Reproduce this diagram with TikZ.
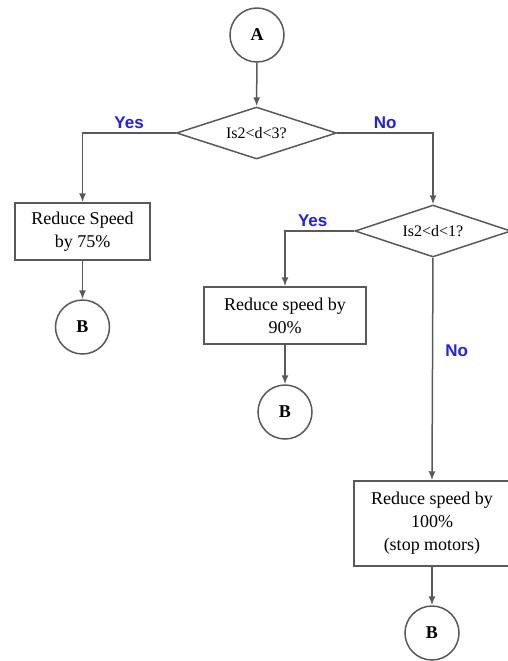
\documentclass[tikz,border=0pt]{standalone}
\usepackage{fontspec}
\setmainfont{Liberation Serif}
\newfontfamily\arialfont{Liberation Sans}
\usetikzlibrary{shapes.geometric,arrows.meta}
\definecolor{labelblue}{RGB}{30,30,245}

\begin{document}
\begin{tikzpicture}[x=0.5pt, y=-0.5pt, line width=0.75pt, draw=black!65,
  conn/.style={draw=black!65, -{Latex[length=4.5pt,width=3.5pt]}},
  link/.style={circle, draw=black!65, minimum size=27pt, inner sep=0pt, font=\fontsize{9}{11}\selectfont\bfseries},
  test/.style={diamond, draw=black!65, aspect=3, inner sep=0pt, minimum width=80pt, minimum height=26pt, font=\fontsize{8}{9.5}\selectfont},
  action/.style={rectangle, draw=black!65, align=center, inner sep=0pt, font=\fontsize{9}{11.5}\selectfont},
  answer/.style={text=labelblue, font=\arialfont\fontsize{8.5}{10}\selectfont\bfseries, inner sep=2pt}]
\useasboundingbox (0,0) rectangle (508,661);

\node[link] (A) at (257,35) {A};
\node[test] (test1) at (256.5,133) {Is2<d<3?};
\node[action, minimum width=67.5pt, minimum height=28.5pt] (slow75) at (82.5,231.5) {Reduce Speed\\by 75\%};
\node[link] (B1) at (82.5,327) {B};
\node[test, minimum width=78pt] (test2) at (433,231) {Is2<d<1?};
\node[action, minimum width=81pt, minimum height=28.5pt] (slow90) at (285,315.5) {Reduce speed by\\90\%};
\node[link] (B2) at (285,412) {B};
\node[action, minimum width=78pt, minimum height=42.5pt] (stop) at (432,523.5) {Reduce speed by\\100\%\\(stop motors)};
\node[link] (B3) at (432,633) {B};

\draw[conn] (A) -- (test1);
\draw[conn] (test1.west) -| node[answer, pos=0.25, above] {Yes} (slow75.north);
\draw[conn] (slow75) -- (B1);
\draw[conn] (test1.east) -| node[answer, pos=0.25, above] {No} (test2.north);
\draw[conn] (test2.west) -| node[answer, pos=0.3, above] {Yes} (slow90.north);
\draw[conn] (slow90) -- (B2);
\draw[conn] (test2.south) -- node[answer, pos=0.42, right=4pt] {No} (stop.north);
\draw[conn] (stop) -- (B3);
\end{tikzpicture}
\end{document}
